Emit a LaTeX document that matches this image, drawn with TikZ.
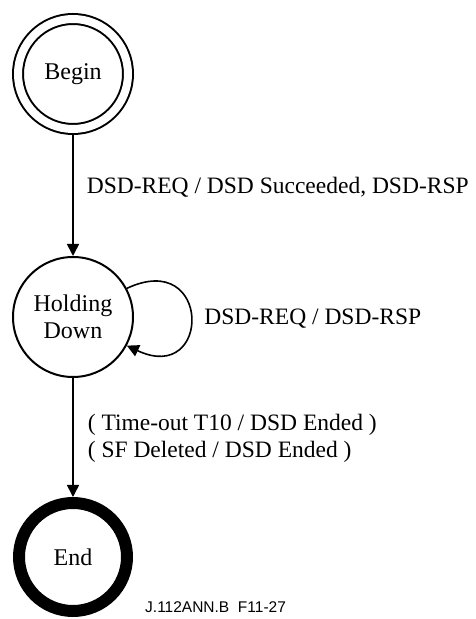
\documentclass[tikz,border=0pt]{standalone}
\usepackage{fontspec}
\setmainfont{Liberation Serif}
\newfontfamily\figsans{Liberation Sans}
\usepackage{tikz}
\usetikzlibrary{shapes,arrows.meta,positioning,calc}

\begin{document}
\begin{tikzpicture}[
    x=1pt, y=1pt,
    state/.style={draw, circle, line width=2pt, minimum size=120pt, inner sep=0pt,
                  align=center, font=\fontsize{24}{27}\selectfont},
    arr/.style={-{Triangle[length=12pt,width=12pt]}, line width=1.6pt},
    lbl/.style={inner sep=0pt, anchor=base west, font=\fontsize{23.5}{27}\selectfont}
]
\useasboundingbox (0, 0) rectangle (476, 619);

% States
\node[state, minimum size=110pt, double, double distance=8pt, outer sep=6pt]
    (begin) at (73, 545) {Begin};
\node[state] (hold) at (73, 302) {Holding\\Down};
\node[state, minimum size=108pt, line width=12pt] (fin) at (73, 62) {End};

% Transitions
\draw[arr] (begin.south) -- (hold.north)
    node[lbl, pos=0.48, xshift=13pt] {DSD-REQ / DSD Succeeded, DSD-RSP};
\draw[arr] (hold.28) .. controls +(85, 40) and +(85, -40) .. (hold.-28)
    node[lbl, pos=0.5, xshift=13pt, yshift=-8pt] {DSD-REQ / DSD-RSP};
\draw[arr] (hold.south) -- (fin.north)
    node[lbl, pos=0.445, xshift=14pt] {( Time-out T10 / DSD Ended )}
    node[lbl, pos=0.664, xshift=14pt] {( SF Deleted / DSD Ended )};

% Figure tag
\node[inner sep=0pt, anchor=base west, font=\figsans\fontsize{15.5}{18}\selectfont]
    (tag) at (145, 6) {J.112ANN.B\ \ F11-27};

\end{tikzpicture}
\end{document}
